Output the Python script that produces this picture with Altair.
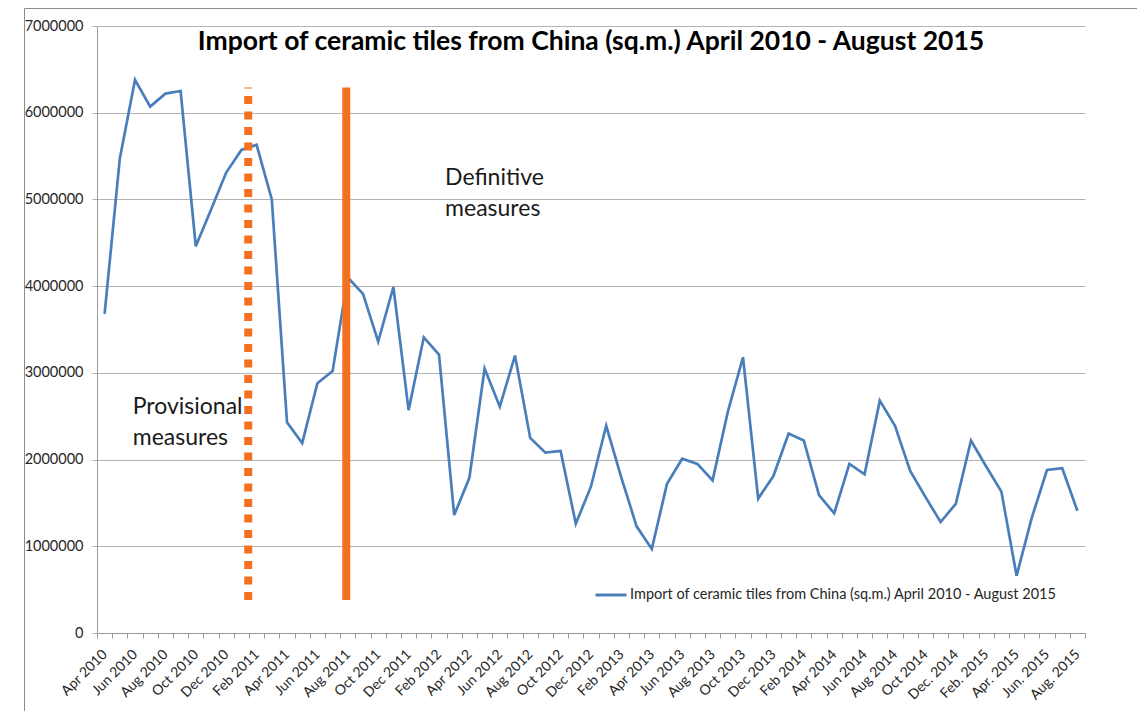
import json
import altair as alt
import pandas as pd

# ---------------- data ----------------
months = [
    "Apr 2010", "May 2010", "Jun 2010", "Jul 2010", "Aug 2010", "Sep 2010", "Oct 2010", "Nov 2010", "Dec 2010",
    "Jan 2011", "Feb 2011", "Mar 2011", "Apr 2011", "May 2011", "Jun 2011", "Jul 2011", "Aug 2011", "Sep 2011",
    "Oct 2011", "Nov 2011", "Dec 2011", "Jan 2012", "Feb 2012", "Mar 2012", "Apr 2012", "May 2012", "Jun 2012",
    "Jul 2012", "Aug 2012", "Sep 2012", "Oct 2012", "Nov 2012", "Dec 2012", "Jan 2013", "Feb 2013", "Mar 2013",
    "Apr 2013", "May 2013", "Jun 2013", "Jul 2013", "Aug 2013", "Sep 2013", "Oct 2013", "Nov 2013", "Dec 2013",
    "Jan 2014", "Feb 2014", "Mar 2014", "Apr 2014", "May 2014", "Jun 2014", "Jul 2014", "Aug 2014", "Sep 2014",
    "Oct 2014", "Nov 2014", "Dec. 2014", "Jan. 2015", "Feb. 2015", "Mar. 2015", "Apr. 2015", "May. 2015",
    "Jun. 2015", "Jul. 2015", "Aug. 2015",
]

imports_sqm = [
    3680000, 5470000, 6380000, 6070000, 6220000, 6250000, 4460000, 4880000, 5310000,
    5570000, 5630000, 5000000, 2430000, 2190000, 2880000, 3020000, 4100000, 3910000,
    3360000, 3990000, 2570000, 3410000, 3210000, 1360000, 1790000, 3050000, 2610000,
    3200000, 2250000, 2080000, 2100000, 1260000, 1690000, 2390000, 1790000, 1230000,
    970000, 1720000, 2010000, 1950000, 1760000, 2550000, 3180000, 1550000, 1810000,
    2300000, 2220000, 1590000, 1380000, 1950000, 1830000, 2680000, 2390000, 1870000,
    1570000, 1280000, 1490000, 2220000, 1920000, 1630000, 660000, 1330000,
    1880000, 1900000, 1410000,
]

tick_labels = [
    "Apr 2010", "Jun 2010", "Aug 2010", "Oct 2010", "Dec 2010", "Feb 2011", "Apr 2011", "Jun 2011",
    "Aug 2011", "Oct 2011", "Dec 2011", "Feb 2012", "Apr 2012", "Jun 2012", "Aug 2012", "Oct 2012",
    "Dec 2012", "Feb 2013", "Apr 2013", "Jun 2013", "Aug 2013", "Oct 2013", "Dec 2013", "Feb 2014",
    "Apr 2014", "Jun 2014", "Aug 2014", "Oct 2014", "Dec. 2014", "Feb. 2015", "Apr. 2015", "Jun. 2015",
    "Aug. 2015",
]

series_name = "Import of ceramic tiles from China (sq.m.) April 2010 - August 2015"
chart_title = "Import of ceramic tiles from China (sq.m.) April 2010 - August 2015"

y_ticks = [0, 1000000, 2000000, 3000000, 4000000, 5000000, 6000000, 7000000]

# measure marker lines (x in month index units, y in sq.m.)
provisional_x = [9.45]
definitive_x = [15.9]
marker_y_from = [380000]
marker_y_to = [6290000]

# annotation texts
annot_text = [["Provisional", "measures"], ["Definitive", "measures"]]
annot_x = [1.85, 22.4]
annot_y = [2530000, 5170000]

# ---------------- styling ----------------
BLUE = "#4a7ebb"
ORANGE = "#f37021"
GRID = "#b3b3b3"
AXIS = "#9a9a9a"
FONT = "Lato"

n = len(months)
df = pd.DataFrame({
    "idx": list(range(n)),
    "month": months,
    "value": imports_sqm,
    "series": [series_name] * n,
})

x_scale = alt.Scale(domain=[-0.5, n - 0.5], nice=False, zero=False)
y_scale = alt.Scale(domain=[0, 7000000], nice=False)

# axis with tick marks at the category boundaries (no labels)
x_tick_axis = alt.Axis(
    values=[i - 0.5 for i in range(n + 1)],
    labels=False,
    grid=False,
    tickSize=5,
    tickColor=AXIS,
    domainColor=AXIS,
    title=None,
    orient="bottom",
)

# axis with labels at every second category centre (no ticks)
label_expr = json.dumps(tick_labels) + "[datum.value / 2]"
x_label_axis = alt.Axis(
    values=list(range(0, n, 2)),
    labelExpr=label_expr,
    labelAngle=-45,
    labelAlign="right",
    labelBaseline="middle",
    labelPadding=17,
    offset=2,
    labelOverlap=False,
    labelFlush=False,
    labelBound=False,
    labelFont=FONT,
    labelFontSize=14,
    labelColor="#262626",
    ticks=False,
    domain=False,
    grid=False,
    title=None,
    orient="bottom",
)

y_axis = alt.Axis(
    values=y_ticks,
    format="d",
    grid=True,
    gridColor=GRID,
    gridWidth=1,
    tickSize=5,
    tickColor=GRID,
    domainColor=AXIS,
    labelFont=FONT,
    labelFontSize=14.5,
    labelColor="#262626",
    labelPadding=9,
    title=None,
)

line = alt.Chart(df).mark_line(strokeWidth=2.7).encode(
    x=alt.X("idx:Q", scale=x_scale, axis=x_tick_axis),
    y=alt.Y("value:Q", scale=y_scale, axis=y_axis),
    color=alt.Color(
        "series:N",
        scale=alt.Scale(range=[BLUE]),
        legend=alt.Legend(
            orient="none",
            legendX=497,
            legendY=552,
            title=None,
            symbolType="stroke",
            symbolSize=961,
            symbolStrokeWidth=3,
            labelFont=FONT,
            labelFontSize=14.5,
            labelColor="#262626",
            labelLimit=0,
            labelOffset=2,
            padding=0,
        ),
    ),
)

prov_df = pd.DataFrame({"x": provisional_x, "y": marker_y_from, "y2": marker_y_to})
def_df = pd.DataFrame({"x": definitive_x, "y": marker_y_from, "y2": marker_y_to})

prov_rule = alt.Chart(prov_df).mark_rule(
    color=ORANGE, strokeWidth=8, strokeDash=[8, 7.5], strokeCap="butt"
).encode(
    x=alt.X("x:Q", scale=x_scale, axis=x_label_axis),
    y=alt.Y("y:Q", scale=y_scale),
    y2="y2:Q",
)

def_rule = alt.Chart(def_df).mark_rule(
    color=ORANGE, strokeWidth=8, strokeCap="butt"
).encode(
    x=alt.X("x:Q", scale=x_scale, axis=None),
    y=alt.Y("y:Q", scale=y_scale),
    y2="y2:Q",
)

annot_df = pd.DataFrame({"x": annot_x, "y": annot_y, "text": annot_text})
annots = alt.Chart(annot_df).mark_text(
    align="left", baseline="alphabetic", font=FONT, fontSize=23, lineHeight=31, color="#1a1a1a"
).encode(
    x=alt.X("x:Q", scale=x_scale, axis=None),
    y=alt.Y("y:Q", scale=y_scale),
    text="text",
)

title_text = alt.Chart(alt.Data(values=[{"t": chart_title}])).mark_text(
    align="center", baseline="alphabetic", font=FONT, fontSize=26.5, fontWeight="bold", color="#000000"
).encode(
    x=alt.value(494),
    y=alt.value(24),
    text="t:N",
)

# chart-area frame (decorative border around the whole chart, as in the spreadsheet)
frame = alt.Chart(alt.Data(values=[{}])).mark_rect(
    fill=None, stroke="#8c8c8c", strokeWidth=1
).encode(
    x=alt.value(-72.5),
    y=alt.value(-17.5),
    x2=alt.value(1200),
    y2=alt.value(900),
)

chart = alt.layer(frame, line, prov_rule, def_rule, annots, title_text).resolve_axis(
    x="independent"
).properties(
    width=988,
    height=607,
    autosize=alt.AutoSizeParams(type="none"),
    padding={"left": 89, "top": 18, "right": 52, "bottom": 100},
    background="white",
).configure_view(stroke=None)

chart.save("out.html", embed_options={"renderer": "svg", "actions": False})
